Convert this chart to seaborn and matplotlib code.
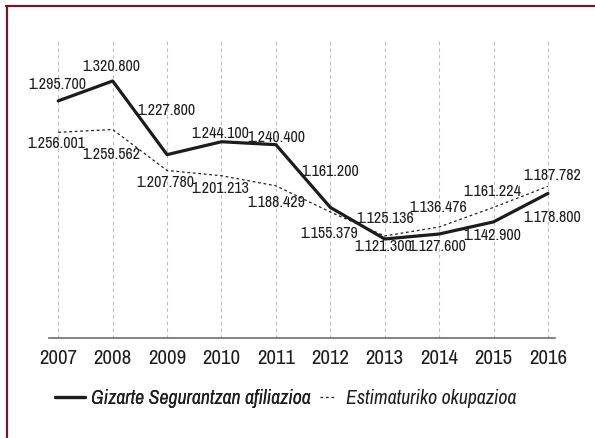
import pandas as pd
import matplotlib.pyplot as plt
import seaborn as sns
from matplotlib import font_manager
from matplotlib.lines import Line2D

# --- DATA ---
years = [2007, 2008, 2009, 2010, 2011, 2012, 2013, 2014, 2015, 2016]
afiliazioa = [1295.700, 1320.800, 1227.800, 1244.100, 1240.400,
              1161.200, 1121.300, 1127.600, 1142.900, 1178.800]
okupazioa = [1256.001, 1259.562, 1207.780, 1201.213, 1188.429,
             1155.379, 1125.136, 1136.476, 1161.224, 1187.782]
afiliazioa_labels = ["1.295.700", "1.320.800", "1.227.800", "1.244.100", "1.240.400",
                     "1.161.200", "1.121.300", "1.127.600", "1.142.900", "1.178.800"]
okupazioa_labels = ["1.256.001", "1.259.562", "1.207.780", "1.201.213", "1.188.429",
                    "1.155.379", "1.125.136", "1.136.476", "1.161.224", "1.187.782"]
series_names = ["Gizarte Segurantzan afiliazioa", "Estimaturiko okupazioa"]

# label offsets in pixels (dx, dy), dy positive = up
off_afil = [(-1, 17), (-1, 15), (-1, 45), (-1, 9), (0, 8),
            (0, 37), (-2, -7), (-2, -11), (-1, -13), (4, -23)]
off_okup = [(-2, -10), (-1, -24), (-2, -11), (-1, -12), (0, -16),
            (-1, -20), (0, 18), (-1, 20), (-1, 17), (4, 12)]

sns.set_style("white")

# szukamy waskiego kroju (Helvetica Narrow w oryginale)
installed = {f.name for f in font_manager.fontManager.ttflist}
narrow = ["Liberation Sans Narrow", "Arial Narrow", "Archivo Narrow", "Roboto Condensed",
          "PT Sans Narrow", "Pragati Narrow", "Fira Sans Condensed",
          "IBM Plex Sans Condensed", "Encode Sans Condensed"]
picked = [n for n in narrow if n in installed][:1]
plt.rcParams['font.family'] = picked + ['Liberation Sans', 'DejaVu Sans']
plt.rcParams['font.weight'] = 'light'

df = pd.DataFrame({"urtea": years, "afil": afiliazioa, "okup": okupazioa})

fig = plt.figure(figsize=(5.95, 4.39), dpi=100)
ax = fig.add_axes([49 / 595, 1 - 339 / 439, (555 - 49) / 595, (339 - 42) / 439])

txt = "#1e1e1e"
sns.lineplot(data=df, x="urtea", y="afil", ax=ax, color="#1c1c1c", lw=2.3)
sns.lineplot(data=df, x="urtea", y="okup", ax=ax, color="#222222", lw=0.9,
             linestyle=(0, (2.2, 2.2)))

for x, y, s, (dx, dy) in zip(years, afiliazioa, afiliazioa_labels, off_afil):
    ax.annotate(s, (x, y), xytext=(dx, dy), textcoords="offset pixels",
                ha="center", va="center", fontsize=11.5, color=txt)
for x, y, s, (dx, dy) in zip(years, okupazioa, okupazioa_labels, off_okup):
    ax.annotate(s, (x, y), xytext=(dx, dy), textcoords="offset pixels",
                ha="center", va="center", fontsize=11.5, color=txt)

ax.set_xlim(2006.83, 2016.13)
ax.set_ylim(996.3, 1371.3)
ax.set_xticks(years)
ax.set_xticklabels([str(y) for y in years], fontsize=15, color=txt)
ax.set_yticks([])
ax.set_xlabel("")
ax.set_ylabel("")
ax.tick_params(axis="x", length=0, pad=7)
ax.grid(axis="x", color="#bdbdbd", lw=0.8, linestyle=(0, (3, 3)))
ax.grid(axis="y", visible=False)
for side in ["top", "right", "left"]:
    ax.spines[side].set_visible(False)
ax.spines["bottom"].set_color("#6e6e6e")
ax.spines["bottom"].set_linewidth(1.2)

# legenda: dwa wpisy z roznymi dlugosciami linii
h1 = Line2D([], [], color="#1c1c1c", lw=2.3)
h2 = Line2D([], [], color="#222222", lw=0.9, linestyle=(0, (2.2, 2.2)))
leg_font = {"size": 14.3, "style": "italic", "weight": "light"}
leg1 = fig.legend([h1], [series_names[0]], loc="center left",
                  bbox_to_anchor=(55 / 595, 1 - 399 / 439), frameon=False,
                  borderaxespad=0, borderpad=0,
                  handlelength=1.5, handletextpad=0.3, prop=leg_font)
for t in leg1.get_texts():
    t.set_color(txt)
leg2 = fig.legend([h2], [series_names[1]], loc="center left",
                  bbox_to_anchor=(320 / 595, 1 - 399 / 439), frameon=False,
                  borderaxespad=0, borderpad=0,
                  handlelength=0.8, handletextpad=0.5, prop=leg_font)
for t in leg2.get_texts():
    t.set_color(txt)
fig.add_artist(leg1)

# bordowa ramka (widoczna tylko gora i lewa strona)
border = "#6d1b2b"
fig.add_artist(Line2D([6.8 / 595, 6.8 / 595], [0, 1 - 7.3 / 439],
                      transform=fig.transFigure, color=border, lw=1.6))
fig.add_artist(Line2D([6.0 / 595, 1], [1 - 7.3 / 439, 1 - 7.3 / 439],
                      transform=fig.transFigure, color=border, lw=1.6))

fig.savefig("out.png", dpi=100)
